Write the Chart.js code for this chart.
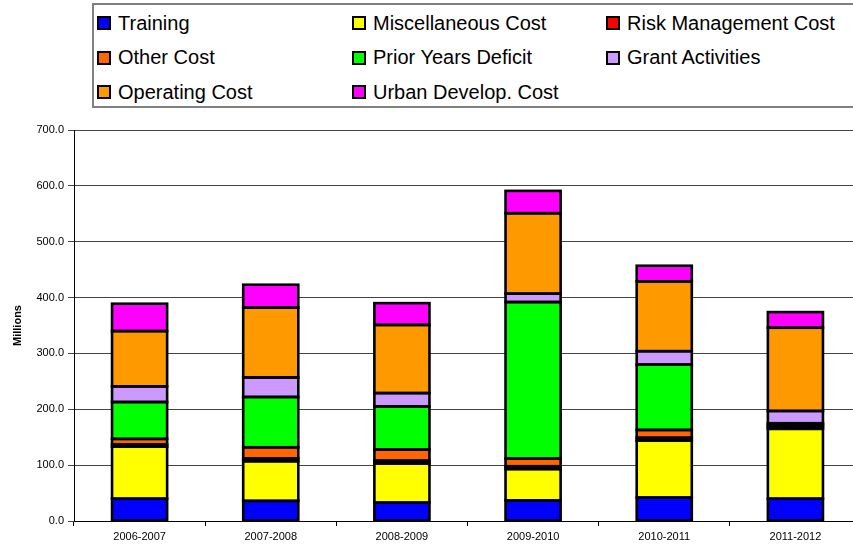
<!DOCTYPE html>
<html>
<head>
<meta charset="utf-8">
<script src="https://cdn.jsdelivr.net/npm/chart.js@4"></script>
<style>
  html, body { margin: 0; padding: 0; background: #fff; overflow: hidden; }
  #wrap { position: relative; width: 853px; height: 548px; overflow: hidden; font-family: "Liberation Sans", Arial, sans-serif; }
  #costChart { position: absolute; left: 0; top: 0; }
  #legend {
    position: absolute; left: 92px; top: 3px; width: 757px; height: 100px;
    border: 2px solid #808080; background: #fff;
    display: grid; grid-template-columns: 255px 254px 248px; grid-auto-rows: 34.5px;
    padding: 1px 0 0 3px; box-sizing: content-box;
  }
  .item { display: flex; align-items: center; font-size: 20px; color: #000; white-space: nowrap; }
  .swatch { width: 10px; height: 10px; border: 2px solid #000; margin-right: 7px; }
</style>
</head>
<body>
<div id="wrap">
  <canvas id="costChart" width="861" height="548"></canvas>
  <div id="legend"></div>
</div>
<script>
// fiscal years and cost components (millions), stacked bottom to top
const categories = ['2006-2007', '2007-2008', '2008-2009', '2009-2010', '2010-2011', '2011-2012'];
const training        = [40, 36, 33, 37, 42, 40];
const miscCost        = [93, 71, 70, 56, 102, 125];
const riskMgmtCost    = [4, 5, 5, 5, 5, 4];
const otherCost       = [10, 20, 20, 14, 14, 3];
const priorDeficit    = [66, 90, 77, 280, 117, 3];
const grantActivities = [28, 35, 24, 15, 24, 22];
const operatingCost   = [99, 125, 122, 144, 125, 149];
const urbanDevelop    = [49, 41, 39, 40, 28, 28];
const yTicks = [0, 100, 200, 300, 400, 500, 600, 700];

const series = [
    { label: 'Training', data: training, color: '#0000ff' },
    { label: 'Miscellaneous Cost', data: miscCost, color: '#ffff00' },
    { label: 'Risk Management Cost', data: riskMgmtCost, color: '#ff0000' },
    { label: 'Other Cost', data: otherCost, color: '#ff6600' },
    { label: 'Prior Years Deficit', data: priorDeficit, color: '#00ff00' },
    { label: 'Grant Activities', data: grantActivities, color: '#cc99ff' },
    { label: 'Operating Cost', data: operatingCost, color: '#ff9900' },
    { label: 'Urban Develop. Cost', data: urbanDevelop, color: '#ff00ff' }
];

Chart.defaults.font.family = '"Liberation Sans", Arial, sans-serif';
Chart.defaults.color = '#000';

// outline every segment with a centred stroke so neighbouring segments share one line
const segmentOutline = {
    id: 'segmentOutline',
    afterDatasetsDraw: function(chart) {
        const c = chart.ctx;
        c.save();
        c.strokeStyle = '#000';
        c.lineWidth = 2.6;
        chart.data.datasets.forEach(function(ds, i) {
            chart.getDatasetMeta(i).data.forEach(function(bar) {
                const p = bar.getProps(['x', 'y', 'base', 'width'], true);
                c.strokeRect(p.x - p.width / 2, Math.min(p.y, p.base), p.width, Math.abs(p.base - p.y));
            });
        });
        c.restore();
    }
};

function buildLegend() {
    const box = document.getElementById('legend');
    series.forEach(function(s) {
        const item = document.createElement('div');
        item.className = 'item';
        const sw = document.createElement('span');
        sw.className = 'swatch';
        sw.style.background = s.color;
        item.appendChild(sw);
        item.appendChild(document.createTextNode(s.label));
        box.appendChild(item);
    });
}

const ctx = document.getElementById('costChart').getContext('2d');
const costChart = new Chart(ctx, {
    type: 'bar',
    data: {
        labels: categories,
        datasets: series.map(function(s) {
            return {
                label: s.label,
                data: s.data,
                backgroundColor: s.color,
                borderWidth: 0,
                inflateAmount: 0,
                barPercentage: 0.42,
                categoryPercentage: 1.0
            };
        })
    },
    plugins: [segmentOutline],
    options: {
        responsive: false,
        animation: false,
        layout: { padding: { top: 130, right: 0, left: 0, bottom: 0 } },
        plugins: {
            legend: { display: false },
            tooltip: { enabled: false }
        },
        scales: {
            x: {
                stacked: true,
                grid: { display: true, drawOnChartArea: false, offset: true, tickLength: 5, color: '#000' },
                border: { color: '#000', width: 1 },
                ticks: { font: { size: 11 }, padding: 4, maxRotation: 0 },
                afterFit: function(scale) { scale.height = 27; }
            },
            y: {
                stacked: true,
                min: 0,
                max: 700,
                afterBuildTicks: function(scale) {
                    scale.ticks = yTicks.map(function(v) { return { value: v }; });
                },
                grid: { color: '#444', lineWidth: 1, tickLength: 6 },
                border: { color: '#000', width: 1 },
                ticks: {
                    font: { size: 11 },
                    padding: 4,
                    callback: function(value) { return value.toFixed(1); }
                },
                title: {
                    display: true,
                    text: 'Millions',
                    font: { size: 11, weight: 'bold' },
                    padding: { top: 11, bottom: 0 }
                },
                afterFit: function(scale) { scale.width = 74; }
            }
        }
    }
});

buildLegend();
</script>
</body>
</html>
